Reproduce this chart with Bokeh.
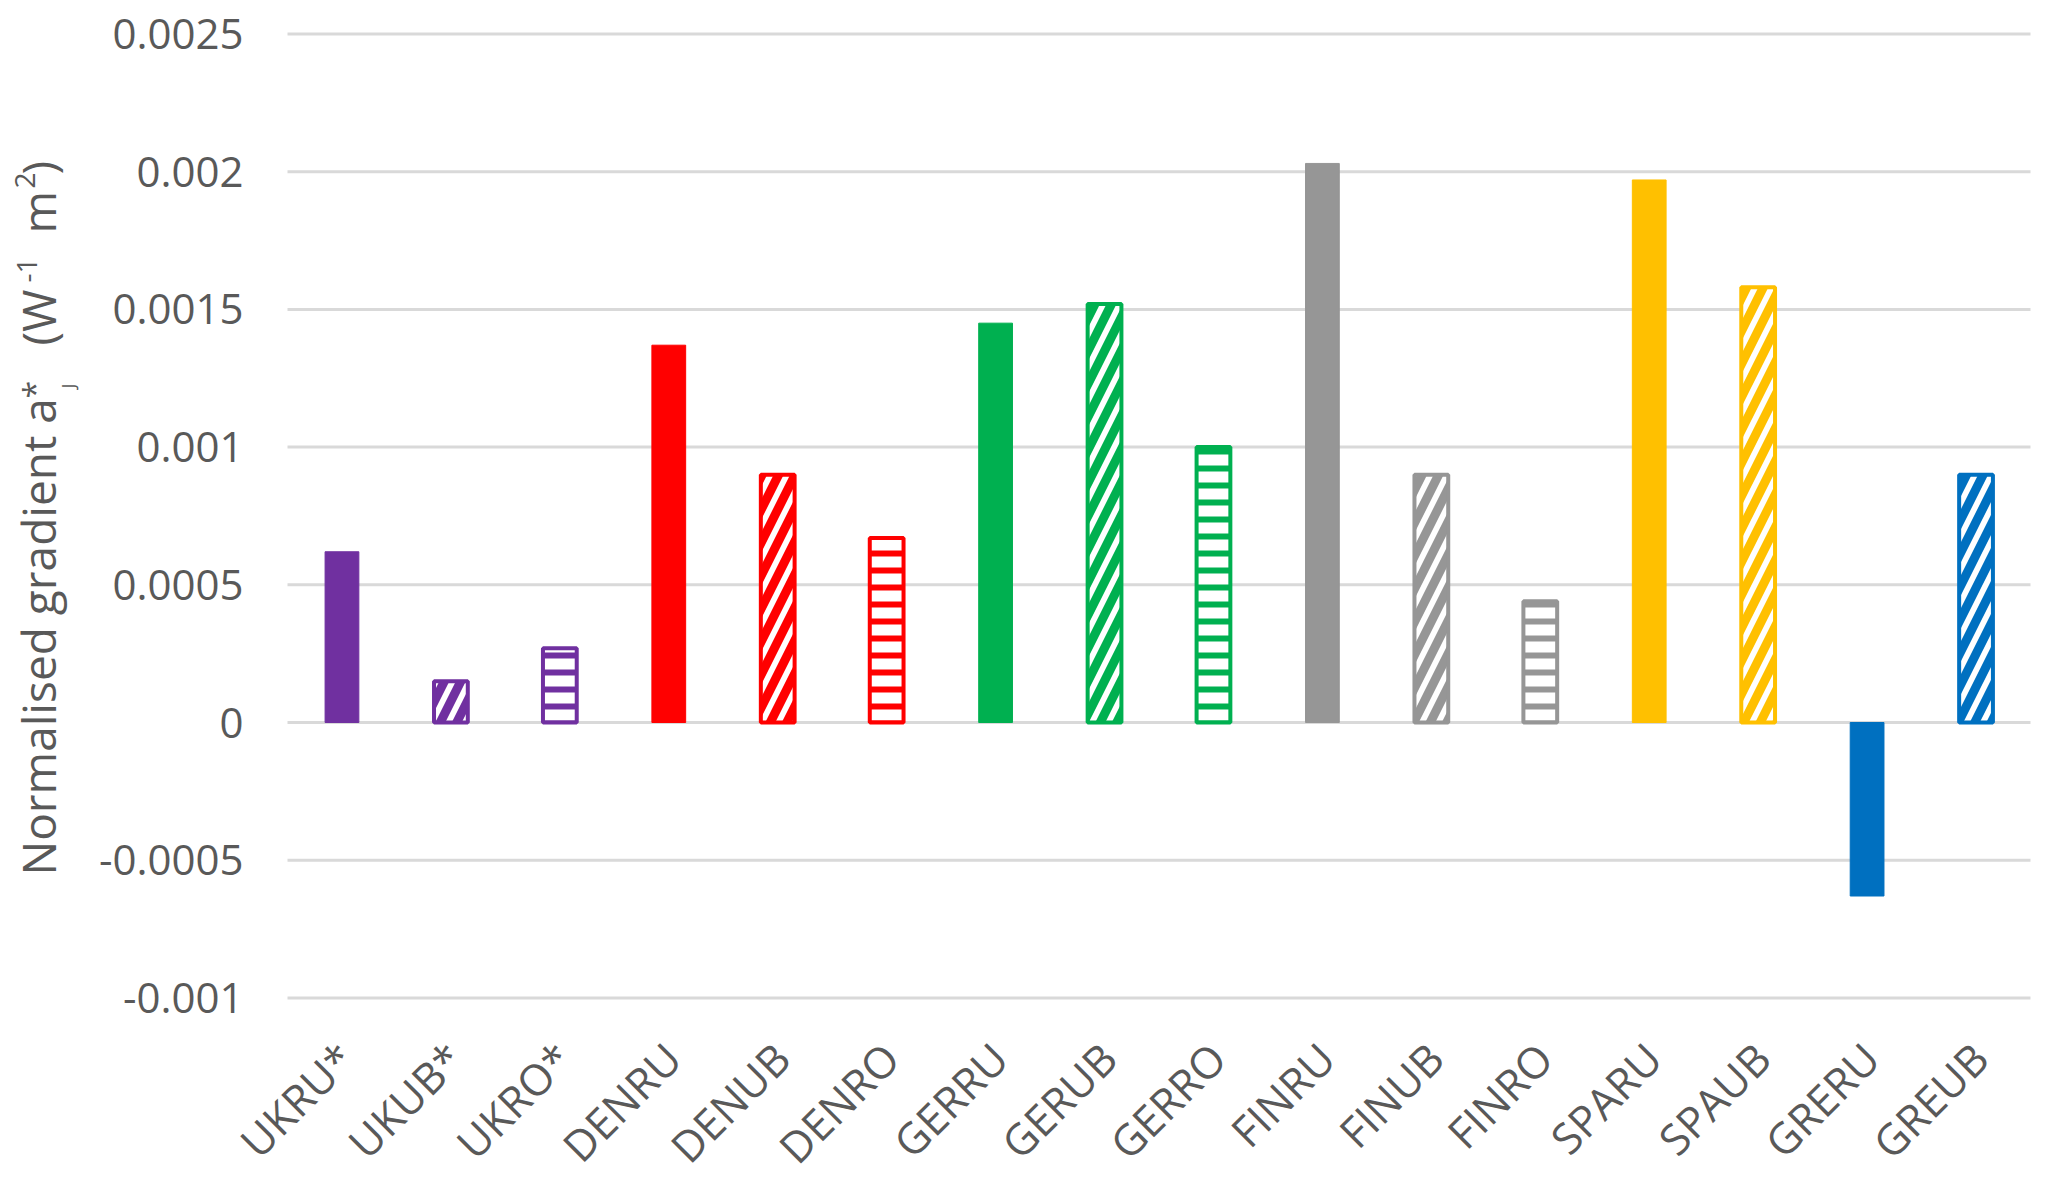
from bokeh.plotting import figure
from bokeh.models import Range1d, ColumnDataSource
from bokeh.core.properties import value
from bokeh.embed import file_html
from bokeh.resources import INLINE
import math

# ---- data ----
categories = ["UKRU*", "UKUB*", "UKRO*", "DENRU", "DENUB", "DENRO", "GERRU", "GERUB",
              "GERRO", "FINRU", "FINUB", "FINRO", "SPARU", "SPAUB", "GRERU", "GREUB"]
values = [0.00062, 0.00015, 0.00027, 0.00137, 0.00090, 0.00067, 0.00145, 0.00152,
          0.00100, 0.00203, 0.00090, 0.00044, 0.00197, 0.00158, -0.00063, 0.00090]
bar_colors = ["#7030A0", "#7030A0", "#7030A0", "#FF0000", "#FF0000", "#FF0000",
              "#00B050", "#00B050", "#00B050", "#969696", "#969696", "#969696",
              "#FFC000", "#FFC000", "#0070C0", "#0070C0"]
bar_kind = ["RU", "UB", "RO", "RU", "UB", "RO", "RU", "UB", "RO", "RU", "UB", "RO",
            "RU", "UB", "RU", "UB"]
y_tick_values = [-0.001, -0.0005, 0.0, 0.0005, 0.001, 0.0015, 0.002, 0.0025]
y_tick_labels = ["-0.001", "-0.0005", "0", "0.0005", "0.001", "0.0015", "0.002", "0.0025"]
y_title_parts = ["Normalised gradient a", "J", "*", "(W", "-1", "m", "2", ")"]

TEXT = "#595959"
FONT = "Open Sans"

# ---- page geometry (pixels) ----
W_FIG, H_FIG = 2060, 1180
PLOT_LEFT, PLOT_RIGHT = 287, 2030          # category band edges
PX_PER_CAT = (PLOT_RIGHT - PLOT_LEFT) / len(categories)
ZERO_PY = 722                                # pixel row of value 0
PX_PER_UNIT_Y = 137.7 / 0.0005


def px_x(px):
    return -0.5 + (px - PLOT_LEFT) / PX_PER_CAT


def py_y(py):
    return (ZERO_PY - py) / PX_PER_UNIT_Y


p = figure(width=W_FIG, height=H_FIG,
           x_range=Range1d(px_x(0), px_x(W_FIG)),
           y_range=Range1d(py_y(H_FIG), py_y(0)),
           output_backend="svg", toolbar_location=None,
           min_border=0, min_border_left=0, min_border_right=0,
           min_border_top=0, min_border_bottom=0)
p.axis.visible = False
p.grid.visible = False
p.outline_line_color = None
p.background_fill_color = "white"
p.border_fill_color = "white"

xs = list(range(len(categories)))

# horizontal gridlines
n_t = len(y_tick_values)
p.segment(x0=[xs[0] - 0.5] * n_t, x1=[xs[-1] + 0.5] * n_t,
          y0=y_tick_values, y1=y_tick_values, line_color="#D9D9D9", line_width=3)


def subset(kind):
    idx = [i for i, k in enumerate(bar_kind) if k == kind]
    return ColumnDataSource(dict(x=[xs[i] for i in idx],
                                 top=[values[i] for i in idx],
                                 color=[bar_colors[i] for i in idx]))


BW = 0.31
p.vbar(x="x", top="top", bottom=0, width=BW, source=subset("RU"),
       fill_color="color", line_color="color", line_width=1)
p.vbar(x="x", top="top", bottom=0, width=BW, source=subset("UB"),
       fill_color="white", line_color="color", line_width=4,
       hatch_pattern="/", hatch_color="color", hatch_scale=33, hatch_weight=9)
p.vbar(x="x", top="top", bottom=0, width=BW, source=subset("RO"),
       fill_color="white", line_color="color", line_width=4,
       hatch_pattern="-", hatch_color="color", hatch_scale=17, hatch_weight=6)

# y tick labels
p.text(x=[xs[0] - 0.5] * n_t, y=y_tick_values, text=y_tick_labels,
       x_offset=-44, text_align="right", text_baseline="middle",
       text_font=value(FONT), text_font_size="42px", text_color=TEXT)

# category labels, rotated 45 degrees
label_py = 1050
p.text(x=[x + 4 / PX_PER_CAT for x in xs], y=[py_y(label_py)] * len(xs), text=categories,
       angle=math.pi / 4, text_align="right", text_baseline="alphabetic",
       text_font=value(FONT), text_font_size="43px", text_color=TEXT)

# y-axis title, composed of pieces for the sub/superscripts
title_px = [37, 67, 34, 37, 26, 37, 24, 37]
title_py = [875, 388, 398, 345, 282, 233, 188, 174]
title_fs = ["46px", "18px", "32px", "46px", "28px", "46px", "28px", "46px"]
title_src = ColumnDataSource(dict(
    text=y_title_parts,
    x=[px_x(v) for v in title_px],
    y=[py_y(v) for v in title_py],
    size=title_fs,
))
p.text(x="x", y="y", text="text", source=title_src, angle=math.pi / 2,
       text_align="left", text_baseline="alphabetic", text_font=value(FONT),
       text_font_size="size", text_color=TEXT)

open("out.html", "w").write(file_html(p, INLINE))
